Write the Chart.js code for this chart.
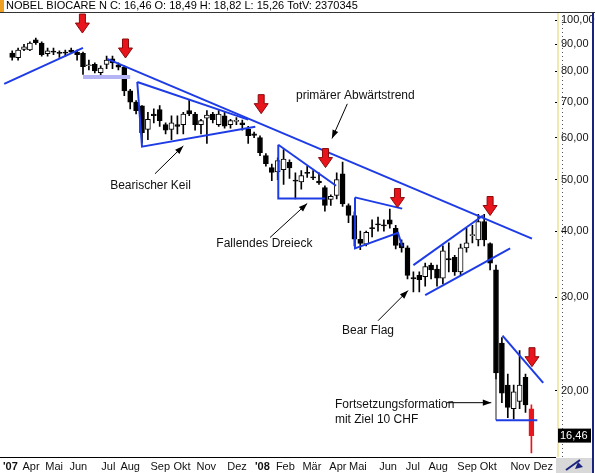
<!DOCTYPE html>
<html>
<head>
<meta charset="utf-8">
<script src="https://cdn.jsdelivr.net/npm/chart.js@4"></script>
<style>
  body { margin: 0; background: #fff; }
  canvas { display: block; }
</style>
</head>
<body>
<canvas id="stockChart" width="595" height="473"></canvas>
<script>
// weekly candles, Mar 2007 .. Nov 2008
const opens  = [86.6,84.9,88.0,87.8,91.8,90.5,86.4,87.2,86.8,86.8,87.8,87.0,86.5,82.0,82.5,79.6,82.5,84.5,82.3,81.5,73.5,70.0,68.9,62.2,66.5,67.8,63.5,62.2,63.5,63.5,67.5,66.5,63.5,65.3,66.5,63.5,66.0,63.5,64.4,64.0,62.2,61.0,60.0,55.5,52.7,51.7,52.2,53.9,49.9,49.5,51.6,50.6,49.7,48.3,45.9,46.7,51.3,44.7,42.8,38.6,37.8,40.6,41.3,41.1,42.0,40.5,38.0,37.2,32.7,33.0,32.8,34.5,33.9,32.6,35.5,35.7,33.5,37.2,39.2,38.5,41.7,37.9,33.8,24.6,20.5,18.5,19.1,21.2,18.49];
const highs  = [87.5,88.5,90.0,91.0,92.5,91.0,88.5,88.5,87.5,87.8,88.5,87.8,87.0,84.0,83.0,82.0,85.5,85.5,83.0,82.0,74.0,70.5,69.0,67.0,68.0,69.0,64.0,66.0,66.0,67.0,70.7,67.0,65.0,67.5,67.0,67.5,67.0,65.0,65.5,64.8,63.0,61.5,60.5,56.0,53.5,55.0,57.0,54.5,51.5,52.0,53.0,52.0,51.5,48.7,46.8,51.5,54.0,45.0,43.5,40.0,40.0,42.0,42.5,42.0,44.0,41.0,38.5,37.5,33.5,33.5,34.8,34.8,34.5,37.5,38.0,36.0,37.8,40.5,41.0,43.0,43.0,38.0,34.5,25.2,21.5,20.5,23.8,21.5,18.82];
const lows   = [84.0,84.0,87.5,87.5,90.0,85.5,85.5,86.0,85.0,85.5,86.5,84.0,79.0,80.5,79.5,77.8,81.0,81.0,80.5,72.0,68.0,66.5,58.6,59.5,64.0,63.0,61.0,59.5,61.0,61.0,66.0,62.0,61.0,58.5,64.0,63.0,62.5,62.5,63.5,62.0,58.5,60.0,55.5,53.0,49.8,50.0,49.0,50.3,46.0,48.0,50.5,50.0,49.0,43.6,44.7,46.0,44.5,41.5,37.5,36.9,37.5,39.0,40.0,40.0,40.5,37.0,36.5,32.5,30.7,30.7,31.5,32.5,31.5,31.8,33.5,33.0,33.0,36.5,38.0,37.5,37.5,33.8,21.0,19.0,17.8,17.7,18.5,18.2,15.26];
const closes = [85.0,87.8,89.0,90.5,90.6,86.0,87.5,87.0,86.5,86.6,87.0,86.0,81.7,82.3,80.2,81.2,84.0,83.0,81.5,73.5,70.0,67.5,61.3,65.0,66.0,64.6,62.0,64.0,63.0,66.5,66.5,63.5,64.6,66.2,64.9,66.5,63.1,64.6,64.6,63.5,60.5,60.6,56.2,53.6,51.6,54.3,54.7,52.6,49.7,50.9,51.4,50.4,49.3,44.7,46.5,50.0,45.0,42.8,38.6,37.9,39.8,40.4,41.1,40.9,41.2,37.6,37.2,33.0,32.5,32.4,34.3,33.8,32.6,36.7,35.3,33.5,37.2,38.0,39.4,41.7,38.5,34.8,21.6,19.8,18.6,19.9,20.5,18.8,16.46];

// month labels (position in weeks)
const monthLabels = ["'07","Apr","Mai","Jun","Jul","Aug","Sep","Okt","Nov","Dez","'08","Feb","Mär","Apr","Mai","Jun","Jul","Aug","Sep","Okt","Nov","Dez"];
const monthPos    = [-0.3,3.2,7.1,11.2,16.3,20,25.1,28.8,32.9,38.1,42.4,46.3,50.8,55.2,58.6,63.7,67.9,72.2,77.1,80.7,86.1,90];
const priceTicks  = [20,30,40,50,60,70,80,90,100];

// trend lines [w1, p1, w2, p2, ...]
const trendLines = [
  [-1.36,75.8, 12.0,88.6],
  [16.1,84.5, 88.1,38.7],
  [21.2,76.4, 40.0,64.9],
  [21.2,76.4, 22.0,57.7, 41.2,62.9],
  [45.1,58.2, 54.9,48.7],
  [45.1,58.2, 45.1,46.1, 53.0,46.1],
  [58.1,46.3, 66.1,44.1],
  [58.1,46.3, 58.1,37.1, 65.4,39.7, 66.1,37.4],
  [68.0,34.5, 79.8,42.8],
  [70.0,30.3, 84.4,37.1],
  [83.1,25.4, 90.0,20.7],
  [82.0,17.6, 89.0,17.6]
];
const supportBand = [12.0,78.1, 20.0,78.1];
const formationPost = [82.0,21.0, 82.0,17.6];

const redArrowWeeks  = [11.9,19.2,42.2,53.1,65.3,81.0,88.1];
const redArrowPrices = [94.5,84.8,66.6,52.7,44.3,42.8,22.2];

const pointers = [
  [24.2,51.3, 29.0,57.9],
  [56.8,69.5, 54.2,59.8],
  [43.7,38.9, 50.0,45.1],
  [62.0,27.1, 67.1,30.9],
  [73.7,18.99, 81.2,18.99]
];
const noteTexts  = ['Bearischer Keil','primärer Abwärtstrend','Fallendes Dreieck','Bear Flag','Fortsetzungsformation','mit Ziel 10 CHF'];
const noteWeeks  = [16.6,48.1,34.6,55.9,54.7,54.7];
const notePrices = [48.8,72.0,37.9,26.0,18.8,17.6];

const n = closes.length;
const wicks = closes.map((c, i) => ({ x: i, y: [lows[i], highs[i]] }));
const bodies = closes.map((c, i) => ({ x: i, y: [Math.min(opens[i], c), Math.max(opens[i], c)] }));
const bodyColor = ctx => {
  const i = ctx.dataIndex;
  if (i === n - 1) return '#e8161c';
  return closes[i] >= opens[i] ? '#ffffff' : '#000000';
};

const BLUE = '#1e3ce6';
function toPoints(arr) {
  const pts = [];
  for (let i = 0; i < arr.length; i += 2) pts.push({ x: arr[i], y: arr[i + 1] });
  return pts;
}
const lineSets = trendLines.map(l => ({
  type: 'line', data: toPoints(l), borderColor: BLUE, borderWidth: 2,
  pointRadius: 0, fill: false, tension: 0, order: 0
}));
lineSets.push({ type: 'line', data: toPoints(supportBand), borderColor: '#b4b4f4', borderWidth: 4, pointRadius: 0, order: 1 });
lineSets.push({ type: 'line', data: toPoints(formationPost), borderColor: '#808080', borderWidth: 1, pointRadius: 0, order: 1 });

const decor = {
  id: 'decor',
  afterDraw(chart) {
    const c = chart.ctx, xs = chart.scales.x, ys = chart.scales.y, a = chart.chartArea;
    c.save();
    // header
    c.fillStyle = '#f0a020'; c.fillRect(0, 0, 4, 12);
    c.fillStyle = '#000'; c.font = '11px "Liberation Sans", Arial, sans-serif';
    c.textBaseline = 'middle'; c.textAlign = 'left';
    c.fillText('NOBEL BIOCARE N C: 16,46 O: 18,49 H: 18,82 L: 15,26 TotV: 2370345', 6, 6);
    c.fillStyle = '#333'; c.fillRect(0, 12, 595, 1);
    // right panel frame
    c.fillStyle = '#f2e9b0'; c.fillRect(a.right + 2, 13, 2, a.bottom - 13);
    c.fillStyle = '#1a237e'; c.fillRect(592, 13, 2, 460);
    c.fillStyle = '#d8d8d8'; c.fillRect(a.right + 1, a.bottom + 1, 592 - a.right - 1, 473 - a.bottom);
    c.strokeStyle = '#1a237e'; c.lineWidth = 2;
    c.beginPath(); c.moveTo(566, 470); c.lineTo(580, 460); c.stroke();
    c.fillStyle = '#1a237e'; c.beginPath(); c.moveTo(578, 462); c.lineTo(583, 467); c.lineTo(575, 469); c.fill();
    // minor dots on price axis
    c.fillStyle = '#555';
    for (let y = 16; y < a.bottom; y += 4) c.fillRect(a.right + 7, y, 1, 1);
    // last price box
    const ly = ys.getPixelForValue(closes[n - 1]);
    c.fillStyle = '#000'; c.fillRect(a.right + 3, ly - 7, 33, 14);
    c.fillStyle = '#fff'; c.fillText('16,46', a.right + 5, ly);
    // red arrows
    redArrowWeeks.forEach((w, i) => {
      const x = xs.getPixelForValue(w), tip = ys.getPixelForValue(redArrowPrices[i]);
      c.beginPath();
      c.moveTo(x - 3, tip - 19); c.lineTo(x + 3, tip - 19); c.lineTo(x + 3, tip - 10);
      c.lineTo(x + 7, tip - 10); c.lineTo(x, tip); c.lineTo(x - 7, tip - 10); c.lineTo(x - 3, tip - 10);
      c.closePath();
      c.fillStyle = '#e8161c'; c.fill();
      c.strokeStyle = '#8a0a0a'; c.lineWidth = 1; c.stroke();
    });
    // pointers
    c.strokeStyle = '#000'; c.fillStyle = '#000'; c.lineWidth = 1;
    pointers.forEach(p => {
      const x1 = xs.getPixelForValue(p[0]), y1 = ys.getPixelForValue(p[1]);
      const x2 = xs.getPixelForValue(p[2]), y2 = ys.getPixelForValue(p[3]);
      const ang = Math.atan2(y2 - y1, x2 - x1);
      c.beginPath(); c.moveTo(x1, y1); c.lineTo(x2, y2); c.stroke();
      c.beginPath(); c.moveTo(x2, y2);
      c.lineTo(x2 - 9 * Math.cos(ang - 0.35), y2 - 9 * Math.sin(ang - 0.35));
      c.lineTo(x2 - 9 * Math.cos(ang + 0.35), y2 - 9 * Math.sin(ang + 0.35));
      c.closePath(); c.fill();
    });
    // notes
    c.font = '12px "Liberation Sans", Arial, sans-serif'; c.fillStyle = '#111';
    noteTexts.forEach((t, i) => c.fillText(t, xs.getPixelForValue(noteWeeks[i]), ys.getPixelForValue(notePrices[i])));
    c.restore();
  }
};

new Chart(document.getElementById('stockChart').getContext('2d'), {
  type: 'bar',
  data: {
    datasets: [
      { data: wicks, backgroundColor: ctx => ctx.dataIndex === n - 1 ? '#e8161c' : '#000', barThickness: 1, grouped: false, order: 3 },
      { data: bodies, backgroundColor: bodyColor, borderColor: ctx => ctx.dataIndex === n - 1 ? '#e8161c' : '#000',
        borderWidth: 1, borderSkipped: false, barThickness: 5, minBarLength: 1, grouped: false, order: 2 },
      ...lineSets
    ]
  },
  options: {
    responsive: false,
    animation: false,
    layout: { padding: { top: 13, left: 0, right: 0, bottom: 0 } },
    plugins: { legend: { display: false }, tooltip: { enabled: false } },
    scales: {
      x: {
        type: 'linear', min: -2.03, max: 92, offset: false,
        afterBuildTicks: s => { s.ticks = monthPos.map(v => ({ value: v })); },
        afterFit: s => { s.height = 16; },
        grid: { display: false, drawTicks: false },
        border: { color: '#000', width: 1 },
        ticks: {
          autoSkip: false, maxRotation: 0, padding: 3, color: '#111',
          font: ctx => ({ family: '"Liberation Sans", Arial, sans-serif', size: 11,
                          weight: (monthLabels[ctx.index] || '').startsWith("'") ? 'bold' : 'normal' }),
          callback: (v, i) => monthLabels[i]
        }
      },
      y: {
        type: 'logarithmic', position: 'right', min: 15.0, max: 103.1,
        afterBuildTicks: s => { s.ticks = priceTicks.map(v => ({ value: v })); },
        afterFit: s => { s.width = 40; },
        grid: { drawOnChartArea: false, tickLength: 4, color: '#000' },
        border: { display: false },
        ticks: {
          padding: 2, color: '#111', font: { family: '"Liberation Sans", Arial, sans-serif', size: 11 },
          callback: v => v.toFixed(2).replace('.', ',')
        }
      }
    }
  },
  plugins: [decor]
});
</script>
</body>
</html>
